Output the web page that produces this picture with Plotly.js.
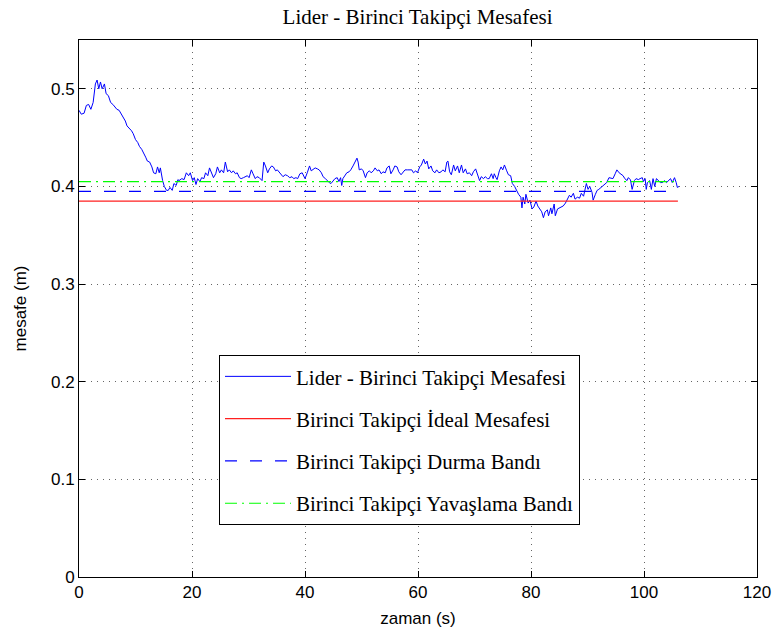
<!DOCTYPE html>
<html>
<head>
<meta charset="utf-8">
<script src="https://cdn.plot.ly/plotly-3.0.1.min.js"></script>
<style>html,body{margin:0;padding:0;background:#fff;}#chart{width:779px;height:634px;}</style>
</head>
<body>
<div id="chart"></div>
<script>
// ---- data ----
const time = [
  0, 0.4, 0.9, 1.3, 1.7, 2.1, 2.5, 2.9, 3.2, 3.5, 3.8, 4.1, 4.5, 4.8, 5.2, 5.6, 6.0, 6.3, 6.7, 7.1,
  7.4, 7.8, 8.2, 8.5, 8.9, 9.3, 9.6, 10.0, 10.4, 10.7, 11.1, 11.4, 11.8, 12.1, 12.5, 12.9, 13.2, 13.6, 13.9, 14.2,
  14.4, 14.8, 15.1, 15.5, 15.8, 16.1, 16.5, 16.8, 17.2, 17.5, 17.7,
  18.2, 18.6, 19.0, 19.4, 19.7, 20.1, 20.4, 20.7, 21.0, 21.4, 21.7, 22.1, 22.4, 22.8, 23.1, 23.5, 23.8, 24.2, 24.5,
  24.9, 25.2, 25.6, 25.9, 26.3, 26.6, 27.0, 27.3, 27.7, 28.0, 28.4, 28.7, 29.1, 29.4, 29.8, 30.1, 30.5, 30.8, 31.2,
  31.5, 31.9, 32.4, 32.7, 33.0, 33.4, 33.7, 34.1, 34.4, 34.8, 35.1, 35.5, 35.8, 36.1,
  36.5, 36.9, 37.3, 37.7, 38.0, 38.4, 38.7, 39.1, 39.5, 39.8, 40.0, 40.4, 40.8, 41.1, 41.5, 41.8, 42.2, 42.5, 42.9,
  43.2, 43.6, 43.9, 44.3, 44.6, 45.0, 45.3, 45.7, 46.0, 46.3, 46.5, 46.7, 47.1, 47.4, 47.8, 48.1, 48.5, 48.8, 49.2,
  49.4, 49.6, 50.0, 50.3, 50.7, 51.0, 51.4, 51.7, 52.1, 52.4, 52.8, 53.1, 53.5, 53.8, 54.2, 54.5,
  54.9, 55.2, 55.6, 55.9, 56.3, 56.6, 57.0, 57.3, 57.7, 58.1, 58.5, 58.9, 59.2, 59.6, 59.9, 60.3, 60.6, 61.0, 61.3,
  61.6, 61.9, 62.3, 62.6, 63.0, 63.3, 63.7, 64.1, 64.4, 64.8, 65.1, 65.3, 65.6, 65.9, 66.3, 66.6, 67.0, 67.3, 67.7,
  68.0, 68.4, 68.7, 69.1, 69.5, 69.8, 70.2, 70.5, 70.9, 71.2, 71.6, 71.9, 72.3, 72.6, 73.0, 73.3,
  73.5, 73.8, 74.0, 74.4, 74.7, 75.0, 75.3, 75.7, 76.0, 76.4, 76.7, 77.1, 77.4, 77.8, 78.2, 78.4, 78.6, 78.9, 79.1,
  79.5, 79.8, 80.2, 80.5, 80.9, 81.2, 81.6, 81.9, 82.2, 82.5, 82.9, 83.1, 83.5, 83.7, 84.1, 84.3, 84.7, 85.0, 85.4,
  85.7, 86.1, 86.4, 86.8, 87.1, 87.5, 87.8, 88.2, 88.6, 88.9, 89.3, 89.6, 89.8, 90.1, 90.4, 90.8, 91.0, 91.4, 91.7,
  92.0, 92.4, 92.7, 93.1, 93.4, 93.8, 94.2, 94.5, 94.9, 95.2, 95.6, 95.9, 96.3, 96.6, 97.0, 97.2, 97.6, 97.9, 98.3,
  98.6, 99.0, 99.3, 99.7, 99.9, 100.2, 100.4, 100.6, 101.0, 101.3, 101.6, 101.9, 102.2, 102.6, 102.9, 103.3, 103.6,
  104.0, 104.3, 104.7, 105.0, 105.4, 105.7, 105.9, 106.2
];
const distance = [
  0.478, 0.474, 0.475, 0.483, 0.484, 0.479, 0.486, 0.505, 0.509, 0.500, 0.507, 0.500, 0.505, 0.495, 0.493, 0.486, 0.484, 0.482, 0.479, 0.478,
  0.475, 0.471, 0.467, 0.462, 0.460, 0.457, 0.454, 0.448, 0.445, 0.441, 0.438, 0.435, 0.430, 0.426, 0.425, 0.420, 0.414, 0.413, 0.420, 0.414,
  0.419, 0.406, 0.400, 0.396, 0.396, 0.399, 0.396, 0.403, 0.401, 0.407, 0.406,
  0.408, 0.407, 0.414, 0.411, 0.414, 0.406, 0.409, 0.402, 0.408, 0.405, 0.409, 0.408, 0.414, 0.411, 0.419, 0.413, 0.409, 0.413, 0.420,
  0.414, 0.417, 0.414, 0.425, 0.415, 0.417, 0.414, 0.416, 0.413, 0.414, 0.409, 0.408, 0.409, 0.410, 0.411, 0.409, 0.417, 0.413, 0.408,
  0.410, 0.409, 0.406, 0.425, 0.421, 0.414, 0.418, 0.421, 0.420, 0.416, 0.417, 0.414, 0.412, 0.410,
  0.412, 0.411, 0.409, 0.410, 0.408, 0.409, 0.408, 0.413, 0.414, 0.410, 0.408, 0.414, 0.421, 0.416, 0.418, 0.419, 0.418, 0.417, 0.414,
  0.410, 0.408, 0.406, 0.404, 0.403, 0.406, 0.408, 0.409, 0.405, 0.409, 0.401, 0.408, 0.412, 0.414, 0.415, 0.417, 0.421, 0.424, 0.429,
  0.425, 0.417, 0.418, 0.416, 0.409, 0.414, 0.416, 0.414, 0.416, 0.419, 0.416, 0.417, 0.413, 0.415, 0.414, 0.419,
  0.421, 0.413, 0.417, 0.421, 0.420, 0.415, 0.412, 0.414, 0.417, 0.417, 0.417, 0.417, 0.414, 0.416, 0.414, 0.420, 0.422, 0.428, 0.423,
  0.426, 0.418, 0.421, 0.416, 0.414, 0.417, 0.414, 0.415, 0.417, 0.415, 0.425, 0.426, 0.415, 0.412, 0.422, 0.416, 0.421, 0.414, 0.422,
  0.414, 0.418, 0.413, 0.414, 0.411, 0.415, 0.418, 0.413, 0.406, 0.410, 0.408, 0.410, 0.408, 0.408, 0.413, 0.408,
  0.413, 0.409, 0.407, 0.416, 0.420, 0.417, 0.422, 0.416, 0.412, 0.411, 0.403, 0.400, 0.396, 0.392, 0.389, 0.378, 0.389, 0.382, 0.392,
  0.383, 0.386, 0.377, 0.379, 0.385, 0.380, 0.376, 0.374, 0.368, 0.374, 0.376, 0.370, 0.378, 0.372, 0.382, 0.370, 0.377, 0.378, 0.379,
  0.380, 0.383, 0.386, 0.391, 0.389, 0.393, 0.387, 0.389, 0.388, 0.393, 0.390, 0.397, 0.403, 0.397, 0.400, 0.394, 0.386, 0.392, 0.396,
  0.397, 0.399, 0.401, 0.403, 0.404, 0.409, 0.408, 0.408, 0.413, 0.417, 0.414, 0.413, 0.411, 0.408, 0.406, 0.409, 0.407, 0.397, 0.406,
  0.408, 0.407, 0.408, 0.409, 0.405, 0.408, 0.397, 0.404, 0.406, 0.397, 0.408, 0.400, 0.408, 0.405, 0.404, 0.404, 0.406,
  0.404, 0.406, 0.408, 0.404, 0.409, 0.404, 0.399, 0.400
];
const bandTime = [0, 106];
const idealDistance = [0.385, 0.385];
const stopBand = [0.395, 0.395];
const slowBand = [0.405, 0.405];
const seriesNames = [
  "Lider - Birinci Takipçi Mesafesi",
  "Birinci Takipçi İdeal Mesafesi",
  "Birinci Takipçi Durma Bandı",
  "Birinci Takipçi Yavaşlama Bandı"
];
const xTicks = [0, 20, 40, 60, 80, 100, 120];
const yTicks = [0, 0.1, 0.2, 0.3, 0.4, 0.5];
const yTickText = ["0", "0.1", "0.2", "0.3", "0.4", "0.5"];

// ---- chart ----
const serif = "'Liberation Serif', 'DejaVu Serif', serif";
const sans = "'Liberation Sans', Arial, sans-serif";

const traces = [
  {x: time, y: distance, name: seriesNames[0], mode: "lines", legendgroup: "a",
   line: {color: "#0000ff", width: 1}},
  {x: bandTime, y: idealDistance, name: seriesNames[1], mode: "lines", legendgroup: "b",
   line: {color: "#ff2020", width: 1.2}},
  {x: bandTime, y: stopBand, name: seriesNames[2], mode: "lines", legendgroup: "c",
   line: {color: "#0000ff", width: 1.2, dash: "12px,13px"}},
  {x: bandTime, y: slowBand, name: seriesNames[3], mode: "lines", legendgroup: "d",
   line: {color: "#00ff00", width: 1.2, dash: "12px,5px,2px,5px"}}
];

const axisCommon = {
  showline: true, linecolor: "#000", linewidth: 1, mirror: "ticks",
  ticks: "inside", ticklen: 6, tickcolor: "#000", tickwidth: 1,
  showgrid: true, gridcolor: "#666", gridwidth: 1, griddash: "1px,5px",
  zeroline: false, tickfont: {family: sans, size: 17, color: "#000"}
};

const layout = {
  width: 779, height: 634,
  paper_bgcolor: "#fff", plot_bgcolor: "#fff",
  margin: {l: 79, r: 22, t: 40, b: 57},
  title: {text: "Lider - Birinci Takipçi Mesafesi", font: {family: serif, size: 21, color: "#000"},
          x: 0.536, xanchor: "center", y: 0.973, yanchor: "middle"},
  xaxis: Object.assign({}, axisCommon, {
    range: [0, 120], tickvals: xTicks, ticktext: xTicks.map(String),
    title: {text: "zaman (s)", font: {family: sans, size: 17, color: "#000"}, standoff: 10}
  }),
  yaxis: Object.assign({}, axisCommon, {
    range: [0, 0.55], tickvals: yTicks, ticktext: yTickText,
    title: {text: "mesafe (m)", font: {family: sans, size: 17, color: "#000"}, standoff: 20}
  }),
  showlegend: true,
  legend: {
    x: 0.2065, y: 0.413, xanchor: "left", yanchor: "top",
    bgcolor: "#fff", bordercolor: "#000", borderwidth: 1,
    font: {family: serif, size: 21, color: "#000"},
    traceorder: "grouped", tracegroupgap: 12, itemwidth: 66
  }
};

Plotly.newPlot("chart", traces, layout, {displayModeBar: false, staticPlot: true});
</script>
</body>
</html>
